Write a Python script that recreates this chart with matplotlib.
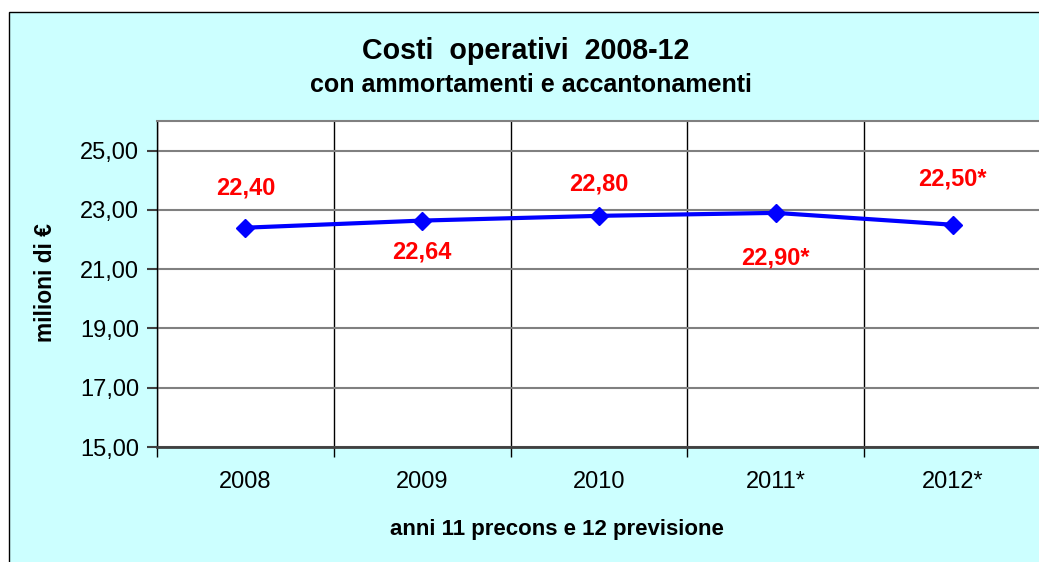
#!/usr/bin/env python3
"""Costi operativi 2008-12: line chart with red value labels."""

import matplotlib

matplotlib.use("Agg")
import matplotlib.pyplot as plt
from matplotlib.patches import Rectangle
from matplotlib.ticker import FixedLocator, FuncFormatter

years = ["2008", "2009", "2010", "2011*", "2012*"]
costs = [22.40, 22.64, 22.80, 22.90, 22.50]
value_labels = ["22,40", "22,64", "22,80", "22,90*", "22,50*"]
y_ticks = [15, 17, 19, 21, 23, 25]

# label offsets in pixels (positive = above the point)
label_offsets = [40, -31, 32, -45, 46]

W, H = 1039, 562
DPI = 100
plt.rcParams["font.family"] = ["Liberation Sans", "DejaVu Sans"]

fig = plt.figure(figsize=(W / DPI, H / DPI), dpi=DPI, facecolor="white")

# chart frame (cyan background, runs off the right and bottom edges)
frame = Rectangle((9 / W, -0.05), 1.1, 1 - 12 / H + 0.05, transform=fig.transFigure,
                  facecolor="#CCFFFF", edgecolor="black", linewidth=1.0, zorder=-1)
fig.patches.append(frame)

left, right, top, bottom = 157, 1041, 121, 447
ax = fig.add_axes([left / W, 1 - bottom / H, (right - left) / W, (bottom - top) / H])
ax.set_zorder(2)
ax.set_facecolor("white")

x = list(range(len(years)))
ax.plot(x, costs, color="#0000FF", linewidth=3, marker="D", markersize=9,
        markerfacecolor="#0000FF", markeredgecolor="#0000FF", zorder=5, clip_on=False)

for xi, yi, lab, off in zip(x, costs, value_labels, label_offsets):
    ax.annotate(lab, (xi, yi), xytext=(0, off * 72 / DPI), textcoords="offset points",
                ha="center", va="center", color="#FF0000", fontsize=17, fontweight="bold")

ax.set_xlim(-0.5, len(years) - 0.5)
ax.set_ylim(15, 26)

ax.yaxis.set_major_locator(FixedLocator(y_ticks))
ax.yaxis.set_major_formatter(FuncFormatter(lambda v, _: f"{v:.2f}".replace(".", ",")))
ax.set_xticks(x)
ax.set_xticklabels(years)
ax.set_xticks([i - 0.5 for i in range(len(years) + 1)], minor=True)

ax.tick_params(axis="x", which="major", length=0, pad=17, labelsize=17)
ax.tick_params(axis="x", which="minor", length=7, width=1, color="black", direction="out")
ax.tick_params(axis="y", which="major", length=7, width=1.5, color="#404040",
               pad=6, labelsize=17)

ax.grid(axis="y", which="major", color="#808080", linewidth=1.5)
ax.grid(axis="x", which="minor", color="black", linewidth=1.0)
ax.set_axisbelow(True)

for side in ("top", "right"):
    ax.spines[side].set_color("#808080")
    ax.spines[side].set_linewidth(1.5)
ax.spines["left"].set_color("black")
ax.spines["left"].set_linewidth(1.0)
ax.spines["bottom"].set_color("#404040")
ax.spines["bottom"].set_linewidth(2.0)

fig.text(526 / W, 1 - 51 / H, "Costi  operativi  2008-12", ha="center", va="center",
         fontsize=20.6, fontweight="bold")
fig.text(531 / W, 1 - 85 / H, "con ammortamenti e accantonamenti", ha="center",
         va="center", fontsize=18, fontweight="bold")
fig.text(45 / W, 1 - 283 / H, "milioni di €", ha="center", va="center", rotation=90,
         fontsize=16.4, fontweight="bold")
fig.text(557 / W, 1 - 530 / H, "anni 11 precons e 12 previsione", ha="center",
         va="center", fontsize=16, fontweight="bold")

fig.savefig("out.png", dpi=DPI, facecolor="white")
